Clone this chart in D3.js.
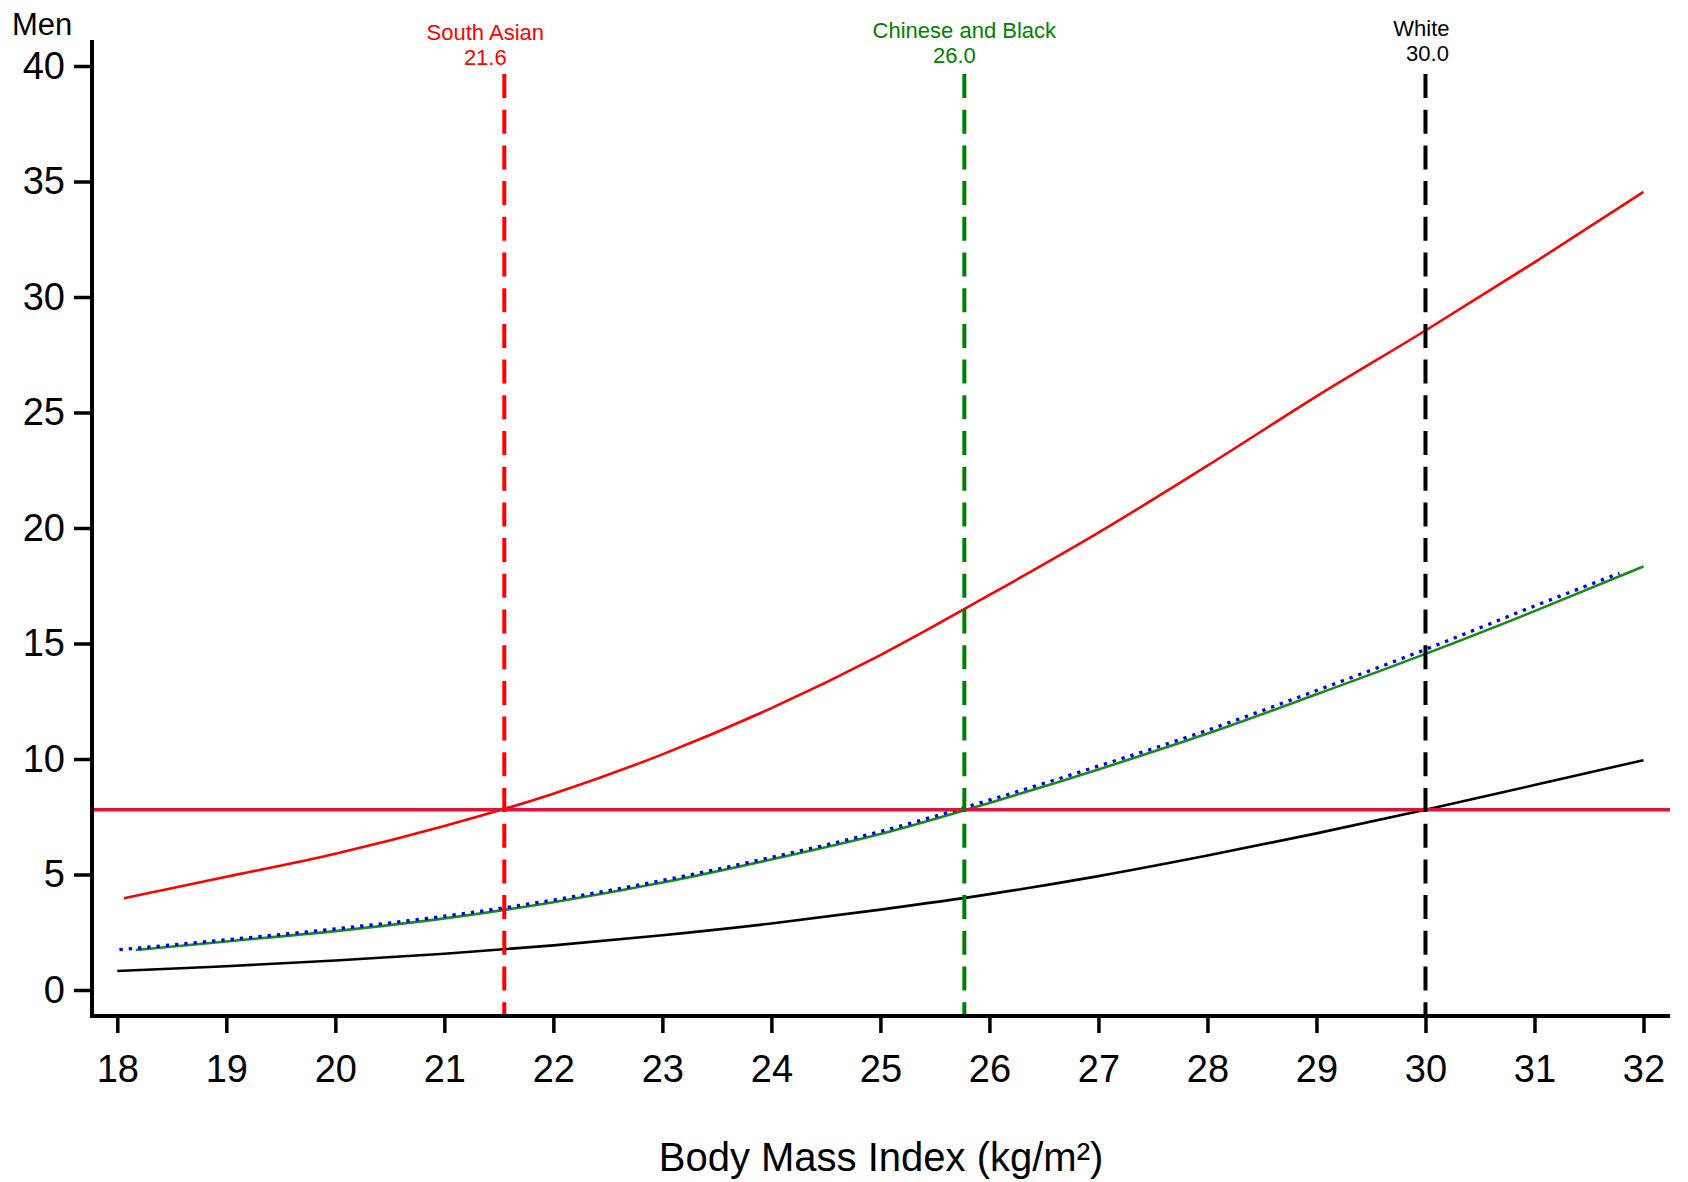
<!DOCTYPE html>
<html>
<head>
<meta charset="utf-8">
<script src="https://cdn.jsdelivr.net/npm/d3@7"></script>
<style>
  body { margin: 0; background: #fff; }
  text { font-family: "Liberation Sans", Arial, sans-serif; }
</style>
</head>
<body>
<svg id="chart" width="1688" height="1182"></svg>
<script>
// risk curves, [bmi, value]
let southAsian = [[18.06,3.97],[19,4.9],[20,5.9],[21,7.1],[22,8.5],[23,10.2],[24,12.2],[25,14.5],[26,17.1],[27,19.8],[28,22.7],[29,25.7],[30,28.55],[31,31.5],[32,34.55]];
let chineseBlack = [[18.17,1.73],[19,2.1],[20,2.55],[21,3.1],[22,3.8],[23,4.65],[24,5.65],[25,6.75],[26,8.1],[27,9.55],[28,11.1],[29,12.8],[30,14.55],[31,16.4],[32,18.34]];
let blackDotted = [[18.02,1.7],[19,2.13],[20,2.6],[21,3.15],[22,3.85],[23,4.7],[24,5.7],[25,6.82],[26,8.18],[27,9.65],[28,11.2],[29,12.92],[30,14.7],[31,16.58],[31.78,18.0]];
let white = [[18.0,0.82],[19,1.03],[20,1.28],[21,1.57],[22,1.93],[23,2.37],[24,2.88],[25,3.48],[26,4.15],[27,4.93],[28,5.82],[29,6.78],[30,7.8],[31,8.87],[32,9.95]];

// cut-off lines
let cutNames = [["South Asian","21.6"],["Chinese and Black","26.0"],["White","30.0"]];
let cutBmi = [21.55, 25.77, 30.0];
let refLevel = 7.8;

let xTicks = d3.range(18, 33, 1);
let yTicks = [0, 5, 10, 15, 20, 25, 30, 35, 40];

let svg = d3.select("#chart");

let x = d3.scaleLinear().domain([18, 32]).range([117.3, 1643.5]);
let y = d3.scaleLinear().domain([0, 40]).range([990, 66]);

let axisX = 92, axisY = 1016;

// x axis
let gx = svg.append("g")
  .attr("transform", "translate(0," + axisY + ")")
  .call(d3.axisBottom(x).tickValues(xTicks).tickSize(17).tickPadding(22).tickFormat(d3.format("d")));
gx.select(".domain").remove();
gx.selectAll(".tick line").attr("stroke", "#000").attr("stroke-width", 3.5);
gx.selectAll(".tick text").attr("font-size", 38).attr("fill", "#000");

// y axis
let gy = svg.append("g")
  .attr("transform", "translate(" + axisX + ",0)")
  .call(d3.axisLeft(y).tickValues(yTicks).tickSize(18).tickPadding(9));
gy.select(".domain").remove();
gy.selectAll(".tick line").attr("stroke", "#000").attr("stroke-width", 3.5);
gy.selectAll(".tick text").attr("font-size", 38).attr("fill", "#000");

// axis lines
svg.append("line")
  .attr("x1", axisX).attr("x2", 1670).attr("y1", axisY).attr("y2", axisY)
  .attr("stroke", "#000").attr("stroke-width", 4);
svg.append("line")
  .attr("x1", axisX).attr("x2", axisX).attr("y1", 40).attr("y2", axisY + 2)
  .attr("stroke", "#000").attr("stroke-width", 4);

// curves
let line = d3.line()
  .x(function(d){ return x(d[0]); })
  .y(function(d){ return y(d[1]); })
  .curve(d3.curveMonotoneX);

svg.append("path").datum(white)
  .attr("d", line).attr("fill", "none").attr("stroke", "#000").attr("stroke-width", 2.6);

svg.append("path").datum(chineseBlack)
  .attr("d", line).attr("fill", "none").attr("stroke", "#1a8a1a").attr("stroke-width", 2.6);

svg.append("path").datum(blackDotted)
  .attr("d", line).attr("fill", "none").attr("stroke", "#0000ff").attr("stroke-width", 3.3)
  .attr("stroke-dasharray", "3.3,6")
  .attr("transform", "translate(0,-1)");

svg.append("path").datum(southAsian)
  .attr("d", line).attr("fill", "none").attr("stroke", "#ff0000").attr("stroke-width", 2.6);

// horizontal reference
svg.append("line")
  .attr("x1", axisX + 2).attr("x2", 1670)
  .attr("y1", y(refLevel)).attr("y2", y(refLevel))
  .attr("stroke", "#dc143c").attr("stroke-width", 3.5);

// vertical cut-offs
let cutColors = ["#ff0000", "#008000", "#000000"];
let labelDx = [[-19, -19], [0, -10], [-4, 2]];
let labelBase = [[40, 65], [38, 63], [36, 61]];

svg.selectAll(".cut").data(cutBmi).enter().append("line")
  .attr("class", "cut")
  .attr("x1", function(d){ return x(d); })
  .attr("x2", function(d){ return x(d); })
  .attr("y1", 74).attr("y2", axisY - 2)
  .attr("stroke", function(d, i){ return cutColors[i]; })
  .attr("stroke-width", 4)
  .attr("stroke-dasharray", "24,11.7");

cutBmi.forEach(function(d, i) {
  for (let k = 0; k < 2; k++) {
    svg.append("text")
      .attr("x", x(d) + labelDx[i][k])
      .attr("y", labelBase[i][k])
      .attr("text-anchor", "middle")
      .attr("font-size", 22)
      .attr("fill", cutColors[i])
      .text(cutNames[i][k]);
  }
});

// titles
svg.append("text")
  .attr("x", 12).attr("y", 35)
  .attr("font-size", 31)
  .attr("fill", "#000")
  .text("Men");

svg.append("text")
  .attr("x", 881).attr("y", 1171)
  .attr("text-anchor", "middle")
  .attr("font-size", 40)
  .attr("fill", "#000")
  .text("Body Mass Index (kg/m²)");
</script>
</body>
</html>
